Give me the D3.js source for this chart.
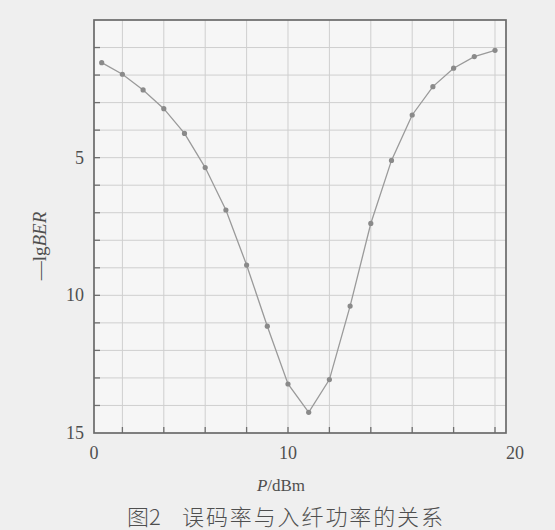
<!DOCTYPE html>
<html>
<head>
<meta charset="utf-8">
<script src="https://cdn.jsdelivr.net/npm/d3@7"></script>
<style>
  html, body { margin: 0; padding: 0; background: #efefef; }
  svg { display: block; }
</style>
</head>
<body>
<svg id="chart" width="555" height="530"></svg>
<script>
// Launch power P (dBm) and measured −lg BER
const powerDbm = [1, 2, 3, 4, 5, 6, 7, 8, 9, 10, 11, 12, 13, 14, 15, 16, 17, 18, 19, 20];
const negLogBer = [1.55, 1.97, 2.54, 3.22, 4.12, 5.36, 6.9, 8.9, 11.12, 13.22, 14.25, 13.06, 10.39, 7.39, 5.1, 3.45, 2.42, 1.75, 1.33, 1.1];

const xTickValues = [0, 10, 20];
const yTickValues = [5, 10, 15];
const xGridValues = [2, 4, 6, 8, 10, 12, 14, 16, 18, 20];
const yGridValues = [1, 2, 3, 4, 5, 6, 7, 8, 9, 10, 11, 12, 13, 14];

const svg = d3.select("#chart");
const frame = { left: 94, right: 506, top: 20, bottom: 433 };

const x = d3.scaleLinear().domain([0, 20]).range([81, 495]);
const y = d3.scaleLinear().domain([0, 15]).range([frame.top, frame.bottom]);

// page background and plot area
svg.append("rect").attr("width", 555).attr("height", 530).attr("fill", "#efefef");
svg.append("rect")
  .attr("x", frame.left).attr("y", frame.top)
  .attr("width", frame.right - frame.left).attr("height", frame.bottom - frame.top)
  .attr("fill", "#f6f6f6");

// grid
const grid = svg.append("g").attr("stroke", "#cfcfcf").attr("stroke-width", 1);
grid.selectAll("line.v").data(xGridValues).join("line")
  .attr("x1", d => x(d)).attr("x2", d => x(d))
  .attr("y1", frame.top).attr("y2", frame.bottom);
grid.selectAll("line.h").data(yGridValues).join("line")
  .attr("x1", frame.left).attr("x2", frame.right)
  .attr("y1", d => y(d)).attr("y2", d => y(d));

// inward ticks
const ticks = svg.append("g").attr("stroke", "#6f6f6f").attr("stroke-width", 1.3);
ticks.selectAll("line.xt").data(xGridValues).join("line")
  .attr("x1", d => x(d)).attr("x2", d => x(d))
  .attr("y1", frame.bottom).attr("y2", frame.bottom - 6);
ticks.selectAll("line.yt").data(yGridValues).join("line")
  .attr("x1", frame.left).attr("x2", frame.left + 6)
  .attr("y1", d => y(d)).attr("y2", d => y(d));

// frame
svg.append("rect")
  .attr("x", frame.left).attr("y", frame.top)
  .attr("width", frame.right - frame.left).attr("height", frame.bottom - frame.top)
  .attr("fill", "none").attr("stroke", "#6a6a6a").attr("stroke-width", 1.7);

// data line and markers
const pts = powerDbm.map((p, i) => [p, negLogBer[i]]);
svg.append("path")
  .datum(pts)
  .attr("fill", "none")
  .attr("stroke", "#9a9a9a")
  .attr("stroke-width", 1.3)
  .attr("d", d3.line().x(d => x(d[0])).y(d => y(d[1])));
svg.append("g").selectAll("circle").data(pts).join("circle")
  .attr("cx", d => x(d[0])).attr("cy", d => y(d[1]))
  .attr("r", 2.6).attr("fill", "#8a8a8a");

// tick labels
const serif = "'Liberation Serif', 'DejaVu Serif', serif";
const xLabelShift = { 0: 13, 10: 0, 20: 20 };
svg.append("g").selectAll("text").data(xTickValues).join("text")
  .attr("x", d => x(d) + xLabelShift[d]).attr("y", 459)
  .attr("text-anchor", "middle")
  .attr("font-family", serif).attr("font-size", 18).attr("fill", "#4f4f4f")
  .text(d => d);
svg.append("g").selectAll("text").data(yTickValues).join("text")
  .attr("x", 84).attr("y", d => y(d) + 6)
  .attr("text-anchor", "end")
  .attr("font-family", serif).attr("font-size", 18).attr("fill", "#4f4f4f")
  .text(d => d);

// axis titles
const xTitle = svg.append("text")
  .attr("x", 281).attr("y", 491).attr("text-anchor", "middle")
  .attr("font-family", serif).attr("font-size", 17).attr("fill", "#4f4f4f");
xTitle.append("tspan").attr("font-style", "italic").text("P");
xTitle.append("tspan").text("/dBm");

const yTitle = svg.append("text")
  .attr("transform", "translate(46,246) rotate(-90)")
  .attr("text-anchor", "middle")
  .attr("font-family", serif).attr("font-size", 19).attr("fill", "#4f4f4f");
yTitle.append("tspan").text("—lg");
yTitle.append("tspan").attr("font-style", "italic").text("BER");

// caption
const cap = svg.append("text")
  .attr("x", 127).attr("y", 525)
  .attr("font-family", "'Noto Sans CJK SC', sans-serif")
  .attr("font-size", 22).attr("font-weight", 300).attr("fill", "#4f4f4f");
cap.append("tspan").text("图2");
cap.append("tspan").attr("x", 182)
  .attr("textLength", 261).attr("lengthAdjust", "spacing")
  .text("误码率与入纤功率的关系");
</script>
</body>
</html>
